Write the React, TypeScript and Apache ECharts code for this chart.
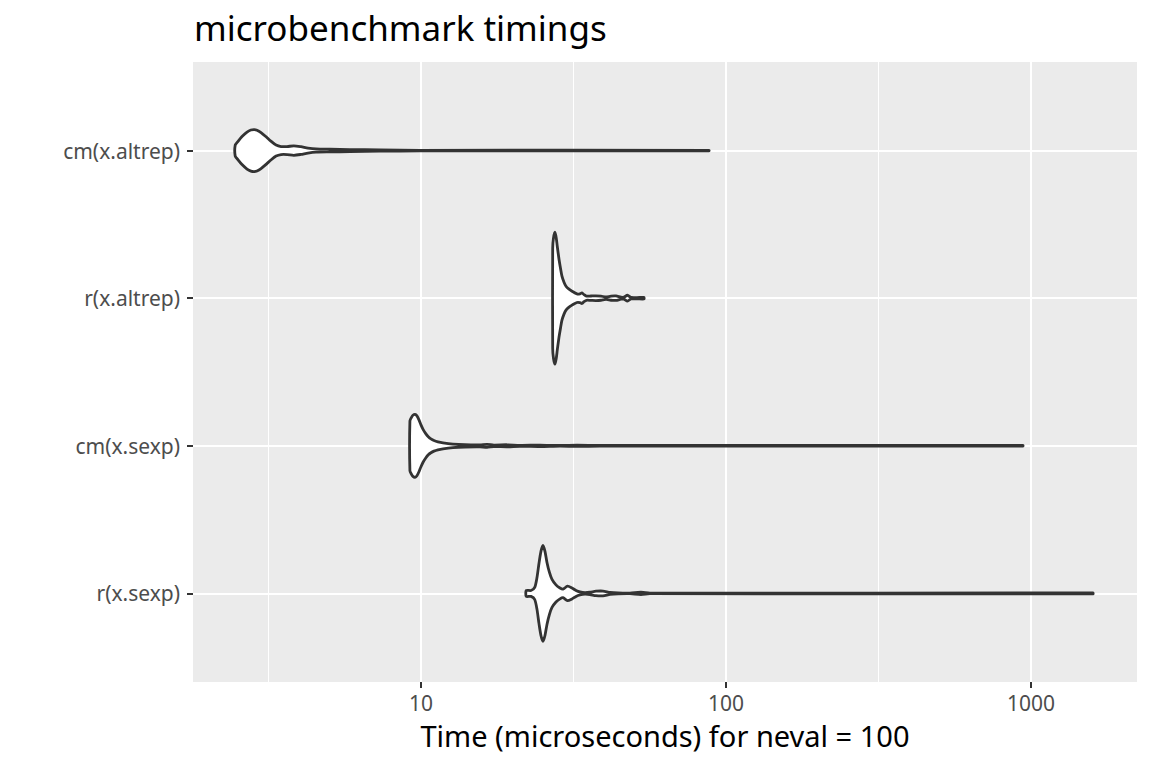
import React, { useEffect, useRef } from 'react';
import * as echarts from 'echarts';

// categories bottom -> top (y positions 0..3)
const categories = ['r(x.sexp)', 'cm(x.sexp)', 'r(x.altrep)', 'cm(x.altrep)'];
const xTicks = [10, 100, 1000];
const xMinorTicks = [3.162, 31.62, 316.2];

// violin outlines: time (microseconds) and half width (category units)
const cmAltrepTime = [2.46, 2.51, 2.59, 2.69, 2.77, 2.84, 2.9, 2.99, 3.1, 3.22, 3.35, 3.48, 3.64, 3.83, 4.04, 4.26, 4.53, 5.03, 5.85, 7.34, 9.92, 88.0];
const cmAltrepWidth = [0.036, 0.061, 0.095, 0.125, 0.139, 0.142, 0.138, 0.122, 0.095, 0.064, 0.037, 0.027, 0.027, 0.032, 0.026, 0.017, 0.011, 0.009, 0.007, 0.004, 0.002, 0.002];

const rAltrepTime = [27.03, 27.19, 27.5, 27.77, 27.98, 28.35, 28.67, 28.99, 29.44, 29.89, 30.58, 31.28, 32.48, 33.22, 33.71, 34.22, 34.88, 36.09, 37.48, 38.92, 40.43, 41.98, 43.59, 45.27, 46.3, 47.54, 48.81, 51.07, 53.84];
const rAltrepWidth = [0.339, 0.407, 0.447, 0.407, 0.352, 0.264, 0.203, 0.149, 0.108, 0.081, 0.061, 0.047, 0.029, 0.03, 0.036, 0.024, 0.014, 0.015, 0.016, 0.014, 0.008, 0.014, 0.015, 0.007, 0.007, 0.02, 0.005, 0.004, 0.005];

const cmSexpTime = [9.2, 9.31, 9.41, 9.56, 9.7, 9.85, 10.0, 10.17, 10.38, 10.57, 10.78, 11.03, 11.37, 11.81, 12.73, 13.94, 15.61, 16.46, 17.35, 19.14, 21.11, 24.55, 28.56, 32.48, 38.62, 941.4];
const cmSexpWidth = [0.169, 0.193, 0.207, 0.213, 0.203, 0.176, 0.142, 0.11, 0.081, 0.061, 0.047, 0.036, 0.027, 0.02, 0.012, 0.008, 0.007, 0.01, 0.005, 0.007, 0.003, 0.005, 0.002, 0.004, 0.002, 0.002];

const rSexpTime = [22.14, 22.95, 23.6, 24.01, 24.37, 24.74, 25.12, 25.5, 25.89, 26.38, 26.89, 27.71, 28.56, 29.21, 30.22, 31.28, 32.24, 33.22, 34.5, 35.83, 37.48, 39.52, 41.68, 44.27, 48.44, 52.64, 56.33, 1597];
const rSexpWidth = [0.02, 0.02, 0.041, 0.108, 0.203, 0.285, 0.325, 0.285, 0.21, 0.142, 0.095, 0.058, 0.037, 0.029, 0.049, 0.037, 0.02, 0.01, 0.005, 0.008, 0.015, 0.016, 0.007, 0.003, 0.002, 0.008, 0.002, 0.003];

const violins = [
  { pos: 3, time: cmAltrepTime, width: cmAltrepWidth },
  { pos: 2, time: rAltrepTime, width: rAltrepWidth },
  { pos: 1, time: cmSexpTime, width: cmSexpWidth },
  { pos: 0, time: rSexpTime, width: rSexpWidth }
];

const font = 'Noto Sans';

const App = () => {
  const chartRef = useRef<HTMLDivElement>(null);

  useEffect(() => {
    const chart = echarts.init(chartRef.current!, null, { renderer: 'svg' });

    const option: any = {
      animation: false,
      backgroundColor: '#FFFFFF',
      title: {
        text: 'microbenchmark timings',
        left: 189,
        top: 5,
        textStyle: { fontFamily: font, fontSize: 35, fontWeight: 'normal', color: '#000000' }
      },
      grid: {
        left: 193,
        right: 15,
        top: 62,
        bottom: 86,
        show: true,
        backgroundColor: '#EBEBEB',
        borderWidth: 0
      },
      xAxis: [
        {
          type: 'log',
          logBase: 10,
          min: 1.789,
          max: 2226,
          axisLine: { show: false, onZero: false },
          axisTick: {
            customValues: xTicks,
            length: 6,
            lineStyle: { color: '#333333', width: 2 }
          },
          axisLabel: {
            customValues: xTicks,
            formatter: (v: number) => String(Math.round(v)),
            color: '#4D4D4D',
            fontFamily: font,
            fontSize: 21,
            margin: 10
          },
          splitLine: { show: true, lineStyle: { color: '#FFFFFF', width: 2 } },
          name: 'Time (microseconds) for neval = 100',
          nameLocation: 'middle',
          nameGap: 39,
          nameTextStyle: { fontFamily: font, fontSize: 29, color: '#000000' }
        },
        {
          type: 'log',
          logBase: 10,
          min: 1.789,
          max: 2226,
          axisLine: { show: false, onZero: false },
          axisTick: { show: false, customValues: xMinorTicks },
          axisLabel: { show: false, customValues: xMinorTicks },
          splitLine: { show: true, lineStyle: { color: '#FFFFFF', width: 1 } }
        }
      ],
      yAxis: {
        type: 'value',
        min: -0.6,
        max: 3.6,
        axisLine: { show: false, onZero: false },
        axisTick: {
          customValues: [0, 1, 2, 3],
          length: 6,
          lineStyle: { color: '#333333', width: 2 }
        },
        axisLabel: {
          customValues: [0, 1, 2, 3],
          formatter: (v: number) => categories[Math.round(v)],
          color: '#4D4D4D',
          fontFamily: font,
          fontSize: 21,
          margin: 13
        },
        splitLine: { show: true, lineStyle: { color: '#FFFFFF', width: 2 } }
      },
      series: [
        {
          type: 'custom',
          coordinateSystem: 'cartesian2d',
          xAxisIndex: 0,
          yAxisIndex: 0,
          data: violins.map((v) => [v.time[0], v.pos]),
          renderItem: (params: any, api: any) => {
            const v = violins[params.dataIndex];
            const upper = v.time.map((t, k) => api.coord([t, v.pos + v.width[k]]));
            const lower = v.time.map((t, k) => api.coord([t, v.pos - v.width[k]])).reverse();
            return {
              type: 'polygon',
              shape: { points: upper.concat(lower), smooth: 0.25 },
              style: {
                fill: '#FFFFFF',
                stroke: '#333333',
                lineWidth: 2.8,
                lineJoin: 'round'
              }
            };
          }
        }
      ]
    };

    chart.setOption(option);

    return () => {
      chart.dispose();
    };
  }, []);

  return (
    <div
      ref={chartRef}
      style={{ position: 'absolute', left: 0, top: 0, width: 1152, height: 768 }}
    ></div>
  );
};

export default App;
